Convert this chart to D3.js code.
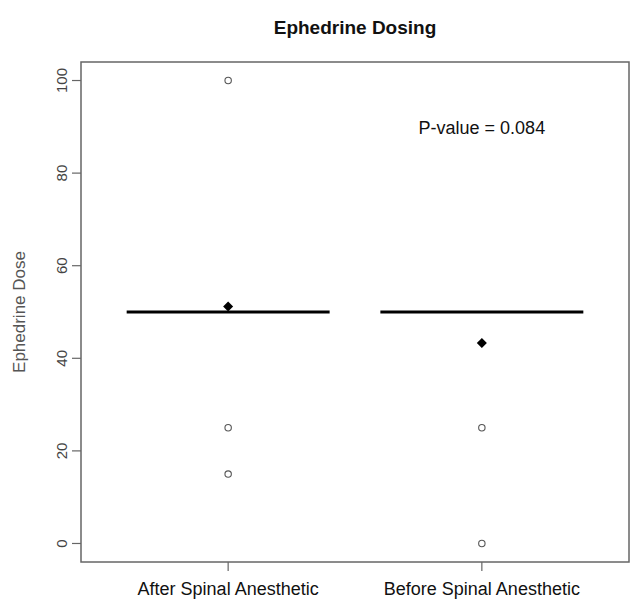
<!DOCTYPE html>
<html lang="en">
<head>
<meta charset="UTF-8">
<title>Ephedrine Dosing</title>
<script src="https://d3js.org/d3.v7.min.js"></script>
<style>
  body { margin: 0; background: #fff; }
  svg text { font-family: "Liberation Sans", Arial, sans-serif; }
</style>
</head>
<body>
<div id="chart"></div>
<script>
// groups on the x axis
const groups = ["After Spinal Anesthetic", "Before Spinal Anesthetic"];
// individual doses that show as open circles
const afterDoses = [100, 25, 15];
const beforeDoses = [25, 0];
// group medians (bars) and means (diamonds)
const medians = [50, 50];
const means = [51.2, 43.3];
const yTicks = [0, 20, 40, 60, 80, 100];
const pText = "P-value = 0.084";

const W = 630, H = 600;
const box = { left: 81, right: 629, top: 62, bottom: 562 };

const svg = d3.select("#chart").append("svg")
    .attr("width", W).attr("height", H);

// R style: range extended by 4% each side
const x = d3.scaleLinear().domain([0.42, 2.58]).range([box.left, box.right]);
const y = d3.scaleLinear().domain([-4, 104]).range([box.bottom, box.top]);

// plot frame
svg.append("rect")
    .attr("x", box.left).attr("y", box.top)
    .attr("width", box.right - box.left).attr("height", box.bottom - box.top)
    .attr("fill", "none").attr("stroke", "#666").attr("stroke-width", 1.5);

// y axis ticks + rotated labels
const yAx = svg.append("g");
yAx.selectAll("line").data(yTicks).enter().append("line")
    .attr("x1", box.left - 9).attr("x2", box.left)
    .attr("y1", d => y(d)).attr("y2", d => y(d))
    .attr("stroke", "#666").attr("stroke-width", 1.2);
yAx.selectAll("text").data(yTicks).enter().append("text")
    .attr("transform", d => `translate(67,${y(d)}) rotate(-90)`)
    .attr("text-anchor", "middle")
    .attr("font-size", 15).attr("fill", "#444")
    .text(d => d);

// x axis ticks + labels
const xAx = svg.append("g");
xAx.selectAll("line").data(groups).enter().append("line")
    .attr("x1", (d, i) => x(i + 1)).attr("x2", (d, i) => x(i + 1))
    .attr("y1", box.bottom).attr("y2", box.bottom + 9)
    .attr("stroke", "#666").attr("stroke-width", 1.2);
xAx.selectAll("text").data(groups).enter().append("text")
    .attr("x", (d, i) => x(i + 1)).attr("y", 595)
    .attr("text-anchor", "middle")
    .attr("font-size", 18).attr("fill", "#111")
    .text(d => d);

// axis title
svg.append("text")
    .attr("transform", `translate(25,${(box.top + box.bottom) / 2}) rotate(-90)`)
    .attr("text-anchor", "middle")
    .attr("font-size", 17).attr("fill", "#555")
    .text("Ephedrine Dose");

// title
svg.append("text")
    .attr("x", (box.left + box.right) / 2).attr("y", 34)
    .attr("text-anchor", "middle")
    .attr("font-size", 19).attr("font-weight", "bold").attr("fill", "#111")
    .text("Ephedrine Dosing");

// points
const pts = [];
afterDoses.forEach(v => pts.push({ g: 1, v }));
beforeDoses.forEach(v => pts.push({ g: 2, v }));
svg.append("g").selectAll("circle").data(pts).enter().append("circle")
    .attr("cx", d => x(d.g)).attr("cy", d => y(d.v))
    .attr("r", 3.2)
    .attr("fill", "none").attr("stroke", "#555").attr("stroke-width", 1.1);

// median bars
svg.append("g").selectAll("line").data(medians).enter().append("line")
    .attr("x1", (d, i) => x(i + 1 - 0.4)).attr("x2", (d, i) => x(i + 1 + 0.4))
    .attr("y1", d => y(d)).attr("y2", d => y(d))
    .attr("stroke", "#000").attr("stroke-width", 3);

// mean diamonds
svg.append("g").selectAll("path").data(means).enter().append("path")
    .attr("transform", (d, i) => `translate(${x(i + 1)},${y(d)})`)
    .attr("d", d3.symbol().type(d3.symbolDiamond2).size(64))
    .attr("fill", "#000");

// p value annotation
svg.append("text")
    .attr("x", x(2)).attr("y", y(90) + 7)
    .attr("text-anchor", "middle")
    .attr("font-size", 18).attr("fill", "#111")
    .text(pText);
</script>
</body>
</html>
